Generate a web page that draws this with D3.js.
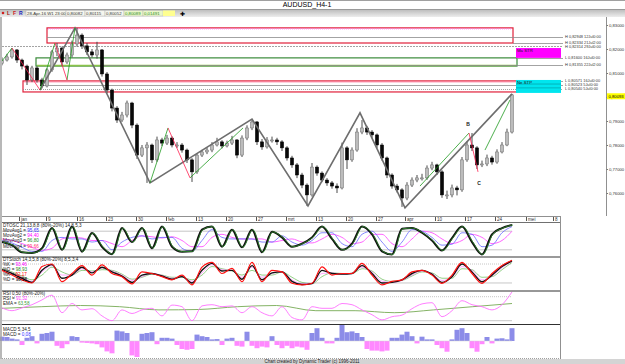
<!DOCTYPE html>
<html>
<head>
<meta charset="utf-8">
<script src="https://cdn.jsdelivr.net/npm/d3@7"></script>
<style>
body { margin: 0; background: #fff; }
text { font-family: "Liberation Sans", Arial, sans-serif; }
</style>
</head>
<body>
<div id="chart-area"></div>
<script>

// ---------------- DATA ----------------

// H4 candles, open = previous close
var firstOpen = 0.8140;
var closes = [.8154,.8167,.8196,.8154,.8129,.8071,.8121,.8071,.8046,.8113,
    .8188,.8204,.8146,.8175,.8221,.8258,.8213,.8188,.8175,.8196,
    .8096,.8029,.7954,.7904,.7925,.7975,.7883,.7758,.7788,.7800,
    .7738,.7821,.7808,.7829,.7800,.7800,.7779,.7738,.7688,.7758,
    .7771,.7779,.7800,.7813,.7796,.7808,.7821,.7758,.7829,.7871,
    .7896,.7813,.7792,.7821,.7821,.7813,.7788,.7746,.7717,.7675,
    .7633,.7592,.7708,.7683,.7654,.7642,.7629,.7621,.7788,.7738,
    .7779,.7854,.7871,.7854,.7842,.7800,.7746,.7675,.7629,.7613,
    .7579,.7633,.7654,.7663,.7663,.7704,.7717,.7688,.7592,.7592,
    .7621,.7613,.7738,.7800,.7788,.7717,.7721,.7746,.7729,.7771,
    .7800,.7854,.8009];
var highs = [.8165,.8180,.8204,.8200,.8160,.8135,.8130,.8128,.8080,.8120,
    .8196,.8225,.8210,.8185,.8235,.8288,.8265,.8225,.8200,.8230,
    .8200,.8104,.8035,.7962,.7938,.7985,.7980,.7890,.7800,.7812,
    .7806,.7835,.7830,.7842,.7836,.7812,.7808,.7785,.7745,.7766,
    .7780,.7790,.7812,.7830,.7820,.7818,.7838,.7825,.7840,.7882,
    .7908,.7900,.7825,.7833,.7835,.7830,.7820,.7795,.7755,.7725,
    .7684,.7640,.7725,.7715,.7690,.7662,.7650,.7640,.7810,.7795,
    .7790,.7870,.7904,.7880,.7862,.7848,.7808,.7752,.7682,.7638,
    .7620,.7645,.7665,.7675,.7680,.7715,.7730,.7722,.7695,.7610,
    .7635,.7630,.7750,.7815,.7850,.7795,.7735,.7760,.7755,.7782,
    .7812,.7868,.8013];
var lows = [.8132,.8148,.8160,.8142,.8115,.8050,.8062,.8060,.8036,.8040,
    .8105,.8170,.8130,.8138,.8165,.8210,.8200,.8175,.8165,.8160,
    .8085,.8015,.7940,.7892,.7896,.7915,.7870,.7742,.7750,.7642,
    .7725,.7730,.7796,.7800,.7790,.7788,.7768,.7725,.7646,.7680,
    .7750,.7762,.7770,.7794,.7786,.7790,.7800,.7745,.7750,.7820,
    .7862,.7800,.7780,.7785,.7810,.7800,.7775,.7735,.7705,.7662,
    .7620,.7546,.7585,.7672,.7645,.7630,.7618,.7600,.7615,.7700,
    .7730,.7772,.7845,.7842,.7830,.7788,.7735,.7662,.7618,.7602,
    .7542,.7570,.7625,.7645,.7652,.7655,.7695,.7675,.7580,.7575,
    .7582,.7590,.7605,.7730,.7775,.7700,.7708,.7712,.7718,.7722,
    .7765,.7795,.7848];

var priceTicks = [0.76, 0.77, 0.78, 0.79, 0.80, 0.81, 0.82, 0.83];
var lastPrice = 0.80093;

// weekly date marks (bar index)
var dateLabels = ["jan","9","16","23","30","feb","13","20","27","mrt","13","20","27","apr","10","17","24","mei","8"];
var dateIdx = [3.4,8.8,15,20.8,26.8,32.8,38.8,44.8,50.8,56.8,62.8,68.8,74.8,80.6,86.6,92.6,98.6,104.8,110.2];

// swing pivots [bar, price]
var swingMain = [[7.6,0.8029],[14.6,0.8288],[29.6,0.7642],[50,0.7908],[61.2,0.7546],[71.6,0.7934],[80.6,0.7538],[102,0.8013]];
var swingUp = [
    [[0,0.8150],[2,0.8204]], [[7.6,0.8029],[10.6,0.8225]], [[13,0.8071],[14.6,0.8288]],
    [[29.6,0.7642],[33.2,0.7871]], [[37.6,0.7663],[48.2,0.7871]],
    [[83.6,0.7629],[93.4,0.7850]], [[96.6,0.7779],[101.6,0.7988]]];
var swingDown = [
    [[2,0.8204],[7.6,0.8029]], [[10.6,0.8225],[13,0.8071]],
    [[33.2,0.7871],[37.6,0.7663]], [[93.4,0.7850],[95.2,0.7688]]];
var waveNames = ["B", "C"];
var wavePos = [[93.2,0.7881], [95.4,0.7634]];

// price zones
var zoneTop = [0.8288, 0.8163, 0.8067];
var zoneBottom = [0.8225, 0.8129, 0.8021];
var zoneFrom = [9, 6.8, 4.2];
var zoneTo = [102.2, 103, 103];

// level lines with their labels
var levelPrice = [0.8250, 0.8225, 0.8213, 0.8163, 0.8133, 0.8067, 0.8050, 0.8033];
var levelFrom = [9, 102.2, 0, 103, 20.2, 103, 7.6, 4.2];
var levelText = ["H 0,82948 12Jul0:00","H 0,82334 21Jul2:00","H 0,82314 29Jul0:00","L 0,81600 16Jul0:00",
    "H 0,81355 22Jul2:00","L 0,80571 16Jul0:00","L 0,80523 5Jul0:00","L 0,80540 5Jul0:00"];

// target boxes on the right
var targetName = ["Ma STR", "Ne STP"];
var targetTop = [0.8204, 0.8071];
var targetBottom = [0.8163, 0.8017];
var targetInner = [[], [0.8054, 0.8038]];
var targetFrom = 102.8, targetTo = 111.8;

// DTOSC
var oscFast = [45,35,12,10,25,90,20,95,14,74,30,6,90,45,90,25,95,30,14,15,85,95,30,85,28,85,12,78,60,30,40,60,95,55,20,40,95,70,15,5,88,90,75,50,18,58,95,45,5,70,90,100];
var oscMid = [50,42,28,15,15,50,60,55,55,45,50,20,45,60,65,55,60,60,25,15,50,85,60,55,55,55,45,45,65,45,35,50,75,75,40,30,70,80,45,15,45,85,80,60,35,38,75,70,30,35,75,95];
var oscSlow = [55,50,40,28,18,25,55,60,58,50,50,40,30,50,65,62,58,62,50,30,30,60,70,60,55,55,55,45,50,55,45,42,55,70,60,40,45,70,70,40,30,55,80,75,55,40,50,70,60,40,50,80];

// DTStoch
var stochK = [60,45,30,20,72,80,24,50,75,45,77,50,40,17,55,50,40,30,45,14,70,85,50,66,24,85,24,60,55,19,14,19,71,45,50,50,82,45,14,25,30,55,60,45,19,45,85,50,19,50,75,92];
var stochD = [62,50,35,22,60,78,35,45,70,52,70,55,42,22,45,50,42,32,40,20,60,82,58,60,32,75,30,52,55,25,15,18,60,50,48,50,75,50,20,22,30,50,60,48,22,40,80,55,24,45,72,90];
var stochS1 = [62,52,38,25,55,75,45,45,65,55,68,58,45,28,40,50,44,35,40,25,52,78,62,60,38,70,38,50,55,30,18,18,50,52,48,50,70,55,26,22,28,45,58,50,28,38,72,60,30,42,68,88];
var stochS2 = [65,55,42,30,45,70,55,45,60,58,62,60,48,32,38,48,45,38,38,30,45,72,65,58,45,60,45,45,55,38,22,18,40,52,50,50,65,58,32,25,28,42,55,52,35,35,65,62,38,40,62,85];

// RSI and its EMA
var rsi = [52,45,52,60,72,84,40,63,47,50,32,20,47,38,47,51,32,59,55,20,57,60,55,57,40,55,40,32,55,28,22,55,51,51,63,60,47,35,22,30,34,50,62,65,30,45,70,60,55,47,60,92];
var rsiEma = [51,55,58,55,47,48,55,58,45,45,40,47,55,63];

// MACD histogram
var macd = [.27,.25,.15,.1,-.25,.2,.3,-.15,.45,.5,.58,-.3,-.45,-.2,.3,.25,-.1,-.12,-.15,-.2,
    -.4,-.65,-.77,.65,.6,.5,-.9,-1,.45,.5,.55,-.2,.2,.2,.15,-.25,-.5,-.55,-.5,.4,
    .3,.25,.1,.12,-.25,.15,.2,-.3,-.35,.58,-.3,-.45,-.35,-.4,.3,-.25,-.45,-.3,-.45,-.35,
    -.4,-.55,.5,.8,.2,-.15,-.15,.2,1,.55,.6,.5,.25,-.5,-.6,-.6,-.65,-.6,.2,.2,
    .4,.58,.3,-.15,.27,.1,.1,-.25,-.45,-.67,.1,.7,.8,.5,-.45,-.67,-.2,.25,-.15,.15,
    .17,.1,.8];

// indicator readouts
var oscTitle = "DTOSC 21,13,8,8 (80%-20%) 14,8,5,3";
var oscNames = ["MovAvg1 = ","MovAvg2 = ","MovAvg3 = ","MovAvg4 = "];
var oscValues = ["95,65","94,40","96,80","99,66"];
var stochTitle = "DTStoch 14,3,5,8 (80%-20%) 8,5,3,4";
var stochNames = ["%K = ","%D = ","%K = ","%D = "];
var stochValues = ["93,46","98,93","92,17","98,98"];
var rsiTitle = "RSI 0,50 (80%-20%)";
var rsiNames = ["RSI = ","EMA = "];
var rsiValues = ["91,32","63,58"];
var macdTitle = "MACD 5,34,5";
var macdNames = ["MACD = "];
var macdValues = ["0,08"];

var toolFields = ["28-Apr-16 W1 23:00","0,80082","0,80115","0,80052","0,80089","0,01491"];

// ---------------- DRAWING ----------------

var width = 625, height = 364;

var svg = d3.select("#chart-area").append("svg")
    .attr("width", width)
    .attr("height", height)
    .style("display", "block");

svg.append("rect").attr("width", width).attr("height", height).attr("fill", "#fff");

var defs = svg.append("defs");
var grad = defs.append("linearGradient").attr("id", "bar").attr("x1", 0).attr("x2", 0).attr("y1", 0).attr("y2", 1);
grad.append("stop").attr("offset", "0%").attr("stop-color", "#b8b8b8");
grad.append("stop").attr("offset", "100%").attr("stop-color", "#ededed");
defs.append("clipPath").attr("id", "mainclip")
    .append("rect").attr("x", 2).attr("y", 17).attr("width", 604).attr("height", 199);

// SCALES
var x = d3.scaleLinear().domain([0, 102]).range([2, 512]);
var y = d3.scaleLinear().domain([0.76, 0.83]).range([193, 25]);

function idxScale(arr) {
    return d3.scaleLinear().domain([0, arr.length - 1]).range([2, 512]);
}

// title + toolbar
svg.append("line").attr("x1", 0).attr("x2", width).attr("y1", 0.5).attr("y2", 0.5).attr("stroke", "#a0a0a0");
svg.append("text")
    .attr("x", 307).attr("y", 7)
    .attr("text-anchor", "middle")
    .style("font-size", "7px")
    .text("AUDUSD_H4-1");
svg.append("rect").attr("x", 0).attr("y", 9).attr("width", width).attr("height", 8).attr("fill", "url(#bar)");
svg.append("line").attr("x1", 0).attr("x2", width).attr("y1", 9.5).attr("y2", 9.5).attr("stroke", "#9a9a9a");

svg.append("circle").attr("cx", 3).attr("cy", 13).attr("r", 1.3).attr("fill", "#d02020");
[["L", 7, "#a01010"], ["F", 13, "#d02020"], ["R", 19, "#2020c0"]].forEach(function(d) {
    svg.append("text").attr("x", d[1]).attr("y", 15).style("font-size", "5px")
        .style("font-weight", "bold").attr("fill", d[2]).text(d[0]);
});
var fieldX = [26, 66, 85, 105, 124, 143];
var fieldW = [40, 19, 20, 19, 19, 20];
toolFields.forEach(function(t, i) {
    svg.append("rect").attr("x", fieldX[i]).attr("y", 10.5).attr("width", fieldW[i]).attr("height", 5.5)
        .attr("fill", i >= 4 ? "#eaf7c8" : "#f6f6ee").attr("stroke", "#b8b8b8").attr("stroke-width", 0.5);
    svg.append("text").attr("x", fieldX[i] + 1).attr("y", 15).style("font-size", "4.3px")
        .attr("fill", i >= 4 ? "#2a8a2a" : "#333").text(t);
});
svg.append("rect").attr("x", 163).attr("y", 10.5).attr("width", 12).attr("height", 5.5).attr("fill", "#ffff90");
svg.append("text").attr("x", 180).attr("y", 15.5).style("font-size", "6px").text("\u271A");

// main price panel
var main = svg.append("g").attr("clip-path", "url(#mainclip)");

// zones
var zoneStroke = ["#e0203a", "#3a8a3a", "#e0203a"];
var zoneInner = ["#ff66ff", "#8bc34a", "#ff7799"];
zoneTop.forEach(function(t, i) {
    main.append("rect")
        .attr("x", x(zoneFrom[i])).attr("y", y(t))
        .attr("width", x(zoneTo[i]) - x(zoneFrom[i]))
        .attr("height", y(zoneBottom[i]) - y(t))
        .attr("fill", "none").attr("stroke", zoneStroke[i]).attr("stroke-width", 1.2);
    main.append("line")
        .attr("x1", x(zoneFrom[i]) + 1).attr("x2", x(zoneTo[i]) - 1)
        .attr("y1", y(i === 1 ? zoneBottom[i] : t) + (i === 1 ? -0.5 : 1))
        .attr("y2", y(i === 1 ? zoneBottom[i] : t) + (i === 1 ? -0.5 : 1))
        .attr("stroke", zoneInner[i]).attr("stroke-width", i === 1 ? 1.4 : 0.8)
        .attr("stroke-dasharray", i === 0 ? "1,1" : null);
});

// level lines
var levelDash = [null, null, "2,1", null, null, null, null, "1,1"];
var levelNudge = [0, -0.8, 0.9, 0, 0, 0, 0, 0];
levelPrice.forEach(function(p, i) {
    main.append("line")
        .attr("x1", x(levelFrom[i])).attr("x2", 563)
        .attr("y1", Math.round(y(p)) + 0.5).attr("y2", Math.round(y(p)) + 0.5)
        .attr("stroke", "#8c8c8c").attr("stroke-width", 0.8)
        .attr("stroke-dasharray", levelDash[i]);
    main.append("text")
        .attr("x", 565).attr("y", y(p) + 1.4 + levelNudge[i])
        .style("font-size", "3.9px").attr("fill", "#333")
        .text(levelText[i]);
});

// target boxes
var targetFill = ["#ff00ff", "#00e5ee"];
targetName.forEach(function(n, i) {
    main.append("rect")
        .attr("x", x(targetFrom)).attr("y", y(targetTop[i]))
        .attr("width", x(targetTo) - x(targetFrom))
        .attr("height", y(targetBottom[i]) - y(targetTop[i]))
        .attr("fill", targetFill[i]);
    targetInner[i].forEach(function(p) {
        main.append("line").attr("x1", x(targetFrom)).attr("x2", x(targetTo))
            .attr("y1", y(p)).attr("y2", y(p)).attr("stroke", "#00a0a8").attr("stroke-width", 0.7);
    });
    main.append("text")
        .attr("x", x(targetFrom) + 1).attr("y", y(targetTop[i]) + 4)
        .style("font-size", "4.3px").attr("fill", "#202020").text(n);
});

// candles
var opens = closes.map(function(c, i) { return i === 0 ? firstOpen : closes[i - 1]; });

main.selectAll(".wick")
    .data(closes)
    .enter().append("line")
    .attr("class", "wick")
    .attr("x1", function(d, i) { return x(i); })
    .attr("x2", function(d, i) { return x(i); })
    .attr("y1", function(d, i) { return y(Math.max(highs[i], d, opens[i])); })
    .attr("y2", function(d, i) { return y(Math.min(lows[i], d, opens[i])); })
    .attr("stroke", "#4a4a4a")
    .attr("stroke-width", 1);

main.selectAll(".body")
    .data(closes)
    .enter().append("rect")
    .attr("class", "body")
    .attr("x", function(d, i) { return x(i) - 1.6; })
    .attr("width", 3.2)
    .attr("y", function(d, i) { return y(Math.max(d, opens[i])); })
    .attr("height", function(d, i) { return Math.max(1, Math.abs(y(d) - y(opens[i]))); })
    .attr("fill", function(d, i) { return d >= opens[i] ? "#bcbcbc" : "#080808"; })
    .attr("stroke", function(d, i) { return d >= opens[i] ? "#707070" : "#000"; })
    .attr("stroke-width", 0.5);

// swings
var swingLine = d3.line()
    .x(function(d) { return x(d[0]); })
    .y(function(d) { return y(d[1]); });

main.append("path")
    .attr("d", swingLine(swingMain))
    .attr("fill", "none").attr("stroke", "#6e6e6e").attr("stroke-width", 1.6);
swingUp.forEach(function(s) {
    main.append("path").attr("d", swingLine(s))
        .attr("fill", "none").attr("stroke", "#1f9a1f").attr("stroke-width", 0.8);
});
swingDown.forEach(function(s) {
    main.append("path").attr("d", swingLine(s))
        .attr("fill", "none").attr("stroke", "#ff2050").attr("stroke-width", 0.8);
});
waveNames.forEach(function(n, i) {
    main.append("text")
        .attr("x", x(wavePos[i][0])).attr("y", y(wavePos[i][1]))
        .attr("text-anchor", "middle")
        .style("font-size", "5px").style("font-weight", "bold").attr("fill", "#222")
        .text(n);
});

// price axis
svg.append("line").attr("x1", 606.5).attr("x2", 606.5).attr("y1", 17).attr("y2", 216)
    .attr("stroke", "#909090");
var yAxis = d3.axisRight(y)
    .tickValues(priceTicks)
    .tickSize(1.5)
    .tickPadding(1)
    .tickFormat(function(d) { return d3.format(".5f")(d).replace(".", ","); });
var yAxisG = svg.append("g").attr("transform", "translate(606.5,0)").call(yAxis);
yAxisG.select(".domain").remove();
yAxisG.selectAll("line").attr("stroke", "#777");
yAxisG.selectAll("text").style("font-size", "4.2px").attr("fill", "#333");

svg.append("rect")
    .attr("x", 607).attr("y", y(lastPrice) - 1.5).attr("width", 18).attr("height", 6)
    .attr("fill", "#ffff00");
svg.append("text")
    .attr("x", 608.5).attr("y", y(lastPrice) + 3)
    .style("font-size", "4.2px").attr("fill", "#000")
    .text(d3.format(".5f")(lastPrice).replace(".", ","));

// date axis
svg.append("line").attr("x1", 2).attr("x2", 560).attr("y1", 216.5).attr("y2", 216.5).attr("stroke", "#909090");
var xAxis = d3.axisBottom(x)
    .tickValues(dateIdx)
    .tickSize(4)
    .tickFormat(function(d, i) { return dateLabels[i]; });
var xAxisG = svg.append("g").attr("transform", "translate(0,217)").call(xAxis);
xAxisG.select(".domain").remove();
xAxisG.selectAll("line").attr("stroke", "#555");
xAxisG.selectAll("text")
    .attr("x", 1.5).attr("y", 0.5).attr("dy", "0.75em")
    .style("text-anchor", "start")
    .style("font-size", "4.6px").attr("fill", "#333");

// sub panels
var yOsc = d3.scaleLinear().domain([0, 100]).range([256, 225]);
var ySto = d3.scaleLinear().domain([0, 100]).range([289.3, 257.7]);
var yRsi = d3.scaleLinear().domain([0, 100]).range([328.7, 288.7]);
var yMacd = d3.scaleLinear().domain([-1, 1]).range([357, 325]);

defs.append("clipPath").attr("id", "rsiclip")
    .append("rect").attr("x", 2).attr("y", 291.5).attr("width", 558).attr("height", 32);

function refLine(sc, v, dash) {
    svg.append("line").attr("x1", 2).attr("x2", 512)
        .attr("y1", sc(v)).attr("y2", sc(v))
        .attr("stroke", "#b8b8b8").attr("stroke-width", 0.8)
        .attr("stroke-dasharray", dash);
}
refLine(yOsc, 80, null); refLine(yOsc, 20, null);
refLine(ySto, 80, "1,1"); refLine(ySto, 20, null);
refLine(yRsi, 80, "1,1"); refLine(yRsi, 20, null);

function series(arr, sc, color, w, dx, parent) {
    var xi = idxScale(arr);
    var line = d3.line()
        .x(function(d, i) { return xi(i) + (dx || 0); })
        .y(function(d) { return sc(d); })
        .curve(d3.curveMonotoneX);
    (parent || svg).append("path")
        .attr("d", line(arr))
        .attr("fill", "none").attr("stroke", color).attr("stroke-width", w)
        .attr("stroke-linejoin", "round");
}

// DTOSC
series(oscSlow, yOsc, "#ff66ff", 1);
series(oscMid, yOsc, "#6868ff", 0.8);
series(oscFast, yOsc, "#111", 2);
series(oscFast, yOsc, "#2e7d2e", 1, 0.8);

// DTStoch
series(stochS2, ySto, "#66bb55", 0.7);
series(stochS1, ySto, "#ff88ff", 0.7);
series(stochD, ySto, "#111", 1.4);
series(stochK, ySto, "#ff1010", 1.2);

// RSI
var rsiG = svg.append("g").attr("clip-path", "url(#rsiclip)");
series(rsiEma, yRsi, "#77aa55", 0.9, 0, rsiG);
series(rsi, yRsi, "#ff70ff", 0.9, 0, rsiG);

// MACD
var xm = idxScale(macd);
svg.selectAll(".mbar")
    .data(macd)
    .enter().append("rect")
    .attr("class", "mbar")
    .attr("x", function(d, i) { return xm(i) - 2.5; })
    .attr("width", 5)
    .attr("y", function(d) { return yMacd(Math.max(0, d)); })
    .attr("height", function(d) { return Math.abs(yMacd(d) - yMacd(0)); })
    .attr("fill", function(d) { return d >= 0 ? "#8c8ce8" : "#ff88ff"; });
svg.append("line").attr("x1", 2).attr("x2", 512).attr("y1", yMacd(0)).attr("y2", yMacd(0))
    .attr("stroke", "#d0d0d0").attr("stroke-width", 0.5);

// panel frames
svg.append("line").attr("x1", 2).attr("x2", 560).attr("y1", 222.5).attr("y2", 222.5).attr("stroke", "#707070");
svg.append("line").attr("x1", 2).attr("x2", 560).attr("y1", 257).attr("y2", 257).attr("stroke", "#9a9a9a").attr("stroke-width", 2);
svg.append("line").attr("x1", 2).attr("x2", 560).attr("y1", 291).attr("y2", 291).attr("stroke", "#303030");
svg.append("line").attr("x1", 2).attr("x2", 560).attr("y1", 324.5).attr("y2", 324.5).attr("stroke", "#303030");
svg.append("line").attr("x1", 2).attr("x2", 560).attr("y1", 358.5).attr("y2", 358.5).attr("stroke", "#a0a0a0").attr("stroke-dasharray", "1,1");
svg.append("line").attr("x1", 560.5).attr("x2", 560.5).attr("y1", 216).attr("y2", 359).attr("stroke", "#909090");
svg.append("line").attr("x1", 1).attr("x2", 1).attr("y1", 17).attr("y2", 359).attr("stroke", "#a0a0a0").attr("stroke-width", 1.5);

// readouts
var valueColors = {
    osc: ["#3030ff", "#ff00ff", "#1a8a1a", "#ff3070"],
    sto: ["#ff00ff", "#1a8a1a", "#ff0000", "#000"],
    rsi: ["#ff40ff", "#3a9a3a"],
    macd: ["#3030ff"]
};
function readout(top, title, names, values, colors) {
    svg.append("text").attr("x", 3).attr("y", top + 2)
        .style("font-size", "4.6px").attr("fill", "#222").text(title);
    names.forEach(function(n, i) {
        var t = svg.append("text").attr("x", 3).attr("y", top + 7 + i * 5.2)
            .style("font-size", "4.6px").attr("fill", "#222");
        t.append("tspan").text(n);
        t.append("tspan").attr("fill", colors[i]).text(values[i]);
    });
}
readout(225, oscTitle, oscNames, oscValues, valueColors.osc);
readout(258.5, stochTitle, stochNames, stochValues, valueColors.sto);
readout(293, rsiTitle, rsiNames, rsiValues, valueColors.rsi);
readout(328.5, macdTitle, macdNames, macdValues, valueColors.macd);

// footer
svg.append("rect").attr("x", 0).attr("y", 359).attr("width", width).attr("height", 5).attr("fill", "#d4d4d4");
svg.append("text")
    .attr("x", 312).attr("y", 363)
    .attr("text-anchor", "middle")
    .style("font-size", "4.5px").attr("fill", "#222")
    .text("Chart created by Dynamic Trader  (c) 1996-2011");

</script>
</body>
</html>
